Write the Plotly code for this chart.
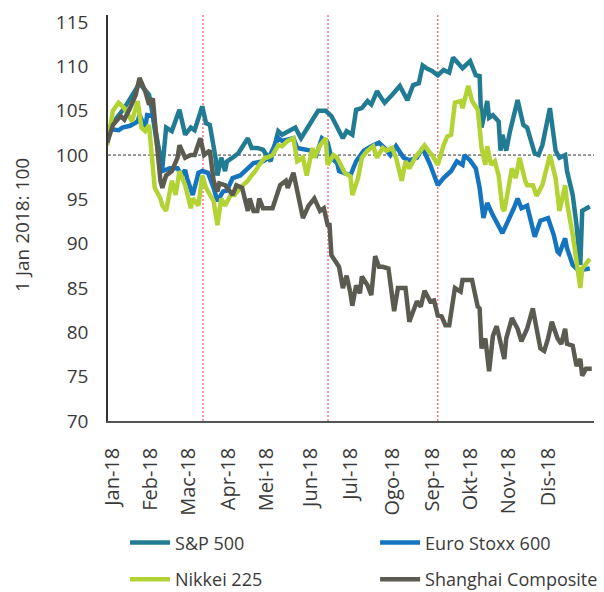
import plotly.graph_objects as go

# x values: trading-day index from 1 Jan 2018
sp_t = [0, 9, 17, 22, 24, 26, 29, 31, 34, 38, 41, 44, 46, 50, 52, 54, 57, 58, 60, 62, 63, 66, 69, 74, 76, 79, 82, 86, 90, 92, 96, 99, 102, 106, 108, 111, 115, 118, 124, 126, 129, 131, 134, 137, 139, 142, 145, 146, 150, 154, 158, 161, 164, 166, 168, 171, 174, 177, 180, 182, 187, 191, 194, 196, 197, 200, 201, 203, 206, 207, 208, 210, 212, 216, 219, 221, 225, 227, 229, 233, 236, 238, 241, 242, 245, 247, 249, 250, 254]
sp_v = [102.8, 105.3, 108.1, 106.8, 104.5, 101.9, 98.5, 103.1, 102.7, 105.1, 102.3, 103.1, 102.8, 105.5, 103.6, 103.4, 99.7, 97.7, 99.7, 98.2, 99.3, 99.7, 100.2, 101.9, 100.8, 100.8, 100.6, 99.3, 102.7, 102.3, 102.7, 103.1, 101.9, 103.3, 104.0, 105.0, 105.0, 104.4, 101.9, 102.7, 102.3, 105.1, 105.3, 106.1, 105.7, 107.2, 106.2, 105.9, 106.8, 107.8, 106.2, 107.9, 108.1, 110.1, 109.8, 109.5, 109.0, 109.6, 109.3, 111.0, 109.8, 110.6, 109.0, 108.9, 103.1, 106.1, 104.2, 104.5, 103.8, 100.5, 102.3, 100.5, 102.7, 106.2, 103.4, 103.1, 100.2, 100.0, 101.1, 105.3, 100.5, 99.7, 100.0, 98.2, 95.5, 92.1, 87.6, 93.7, 94.2]

eu_t = [0, 2, 6, 8, 12, 16, 17, 20, 21, 24, 27, 29, 33, 37, 39, 41, 42, 45, 48, 50, 53, 56, 58, 61, 63, 66, 70, 74, 77, 82, 85, 90, 92, 98, 100, 107, 110, 113, 116, 118, 121, 122, 128, 131, 135, 140, 143, 146, 149, 152, 156, 159, 163, 166, 170, 174, 177, 181, 184, 187, 188, 191, 194, 196, 198, 200, 203, 208, 211, 214, 216, 218, 221, 225, 228, 232, 235, 237, 238, 241, 242, 245, 248, 254]
eu_v = [102.8, 102.9, 102.8, 103.1, 103.3, 103.8, 104.5, 103.1, 104.5, 104.4, 100.0, 98.2, 98.5, 98.5, 97.7, 98.3, 97.4, 95.5, 98.0, 98.2, 98.0, 96.3, 94.8, 95.9, 96.0, 97.4, 97.7, 98.5, 99.1, 99.3, 99.7, 101.9, 101.6, 101.9, 100.8, 100.5, 100.0, 101.9, 101.4, 99.7, 99.1, 98.2, 97.7, 99.3, 100.5, 101.1, 101.4, 100.8, 100.0, 101.0, 99.7, 99.4, 99.7, 100.8, 98.9, 96.6, 97.4, 98.2, 99.3, 98.9, 100.0, 99.4, 98.5, 96.3, 92.9, 94.6, 93.2, 91.2, 92.5, 94.0, 95.1, 94.0, 94.3, 90.8, 92.6, 92.9, 91.0, 89.1, 88.9, 90.6, 89.5, 87.6, 87.0, 87.2]

nk_t = [0, 3, 6, 9, 13, 16, 18, 20, 22, 25, 28, 29, 31, 34, 36, 38, 41, 44, 45, 48, 50, 52, 56, 58, 60, 62, 65, 67, 70, 74, 76, 78, 80, 83, 84, 87, 90, 92, 95, 98, 100, 103, 105, 108, 109, 112, 115, 116, 119, 121, 125, 128, 129, 132, 134, 137, 140, 142, 145, 147, 150, 152, 155, 157, 159, 162, 165, 167, 169, 171, 174, 177, 179, 181, 183, 186, 187, 190, 192, 195, 196, 197, 199, 200, 202, 204, 206, 208, 209, 211, 213, 215, 217, 220, 221, 224, 226, 229, 233, 236, 238, 241, 242, 245, 247, 249, 250, 254]
nk_v = [101.1, 105.0, 105.9, 105.3, 103.8, 106.1, 103.1, 102.7, 103.4, 96.3, 95.1, 94.3, 93.7, 97.1, 95.5, 98.2, 96.6, 94.0, 95.1, 94.3, 97.7, 96.3, 94.8, 92.1, 95.1, 94.3, 95.5, 95.5, 96.3, 97.1, 97.7, 98.2, 98.9, 99.7, 99.7, 100.0, 101.1, 101.0, 101.6, 101.9, 99.3, 99.7, 97.7, 100.8, 99.7, 101.1, 101.9, 98.9, 100.0, 99.7, 98.0, 97.6, 95.5, 97.4, 99.7, 100.5, 101.0, 99.7, 100.8, 100.5, 100.8, 99.7, 97.1, 99.3, 98.5, 99.7, 100.5, 101.1, 100.5, 100.0, 98.9, 101.1, 102.1, 102.3, 105.9, 106.1, 105.3, 107.8, 106.1, 105.1, 103.1, 100.8, 98.9, 101.0, 98.9, 99.3, 97.7, 94.0, 93.7, 96.3, 98.5, 97.4, 99.7, 97.1, 96.6, 96.6, 95.4, 96.6, 100.0, 97.4, 93.7, 96.6, 94.6, 91.0, 88.3, 85.0, 87.2, 88.3]

sh_t = [0, 3, 7, 9, 12, 15, 17, 20, 22, 24, 26, 28, 29, 31, 34, 37, 38, 41, 44, 46, 49, 51, 54, 56, 58, 59, 62, 66, 68, 71, 74, 75, 77, 79, 80, 82, 87, 91, 94, 95, 98, 100, 103, 106, 109, 112, 114, 116, 117, 118, 121, 122, 124, 126, 128, 129, 131, 133, 134, 137, 139, 140, 141, 143, 145, 148, 151, 153, 157, 159, 163, 165, 167, 170, 172, 174, 176, 178, 180, 183, 186, 187, 192, 195, 196, 197, 199, 201, 203, 205, 207, 209, 210, 213, 216, 218, 221, 224, 226, 228, 230, 232, 234, 237, 239, 241, 242, 245, 247, 249, 250, 252, 255]
sh_v = [101.4, 103.4, 104.4, 104.0, 105.3, 106.8, 108.7, 107.2, 105.7, 106.4, 101.6, 97.1, 96.3, 97.7, 98.2, 99.7, 101.1, 99.7, 100.0, 100.0, 101.9, 100.0, 100.5, 97.1, 95.9, 96.8, 96.6, 95.5, 96.6, 96.3, 93.7, 95.1, 93.7, 93.7, 95.1, 94.0, 94.0, 96.6, 97.1, 96.3, 98.0, 95.9, 92.9, 94.3, 95.1, 93.7, 94.0, 92.1, 92.1, 88.7, 87.6, 87.4, 85.0, 86.4, 84.4, 83.0, 85.3, 84.4, 86.3, 85.3, 84.2, 86.1, 88.6, 87.4, 87.4, 87.2, 82.4, 85.0, 85.0, 81.2, 83.5, 82.9, 84.7, 83.5, 83.6, 81.9, 81.8, 80.8, 80.8, 85.0, 84.6, 85.9, 85.9, 82.9, 82.7, 78.2, 79.3, 75.6, 79.6, 80.7, 79.0, 77.0, 79.3, 81.6, 80.4, 79.0, 80.4, 82.7, 80.4, 78.2, 77.9, 79.3, 81.2, 79.3, 78.7, 80.4, 78.7, 78.5, 76.2, 77.0, 75.1, 75.9, 75.9]

month_ticks = [3, 23, 43, 64, 84, 107, 128, 150, 171, 191, 211, 232]
month_labels = ["Jan-18", "Feb-18", "Mac-18", "Apr-18", "Mei-18", "Jun-18",
                "Jul-18", "Ogo-18", "Sep-18", "Okt-18", "Nov-18", "Dis-18"]
event_days = [50.4, 116.2, 174.0]
y_ticks = [70, 75, 80, 85, 90, 95, 100, 105, 110, 115]

FONT = "Open Sans"
TXT = "#3a3a3a"

# name, x, y, colour, legend id, legend position (container coords)
series = [
    ("S&P 500", sp_t, sp_v, "#207b93", "legend", (0.207, 0.083)),
    ("Euro Stoxx 600", eu_t, eu_v, "#1474bf", "legend2", (0.621, 0.083)),
    ("Nikkei 225", nk_t, nk_v, "#b3d334", "legend3", (0.207, 0.021)),
    ("Shanghai Composite", sh_t, sh_v, "#5b5b51", "legend4", (0.621, 0.021)),
]

fig = go.Figure()
legend_layouts = {}
for name, t, v, col, lg, (lx, ly) in series:
    fig.add_trace(go.Scatter(x=t, y=v, mode="lines", name=name,
                             line=dict(color=col, width=4.5),
                             legend=lg, hoverinfo="skip"))
    legend_layouts[lg] = dict(orientation="h", xref="container", yref="container",
                              x=lx, xanchor="left", y=ly, yanchor="middle",
                              itemwidth=40, bgcolor="rgba(0,0,0,0)",
                              font=dict(size=18, family=FONT, color=TXT))

shapes = [dict(type="line", xref="paper", x0=0, x1=1, yref="y", y0=100, y1=100,
               line=dict(color="#333333", width=1, dash="3px,2px"), layer="below")]
for d in event_days:
    shapes.append(dict(type="line", xref="x", x0=d, x1=d, yref="paper", y0=0, y1=1,
                       line=dict(color="#e2323a", width=1, dash="2px,2px"), layer="below"))

fig.update_layout(
    width=604, height=592,
    margin=dict(l=108, r=10, t=15, b=171, autoexpand=False),
    paper_bgcolor="white", plot_bgcolor="white",
    font=dict(family=FONT, color=TXT, size=18),
    showlegend=True,
    shapes=shapes,
    xaxis=dict(range=[0.4, 256.2], tickmode="array", tickvals=month_ticks,
               ticktext=month_labels, tickangle=-90, ticks="", showgrid=False,
               zeroline=False, showline=True, linecolor="#555555", linewidth=1.5,
               tickfont=dict(size=20, family=FONT, color=TXT), ticklabelstandoff=17,
               automargin=False),
    yaxis=dict(range=[70, 115.8], tickmode="array", tickvals=y_ticks, ticks="",
               showgrid=False, zeroline=False, showline=True, linecolor="#333333",
               linewidth=1.5, tickfont=dict(size=19, family=FONT, color=TXT),
               ticklabelstandoff=14, automargin=False),
    annotations=[dict(text="1 Jan 2018: 100", textangle=-90, xref="paper", yref="paper",
                      x=-0.177, y=0.483, xanchor="center", yanchor="middle",
                      showarrow=False, font=dict(size=19, family=FONT, color=TXT))],
    **legend_layouts,
)

fig.write_html("out.html")
